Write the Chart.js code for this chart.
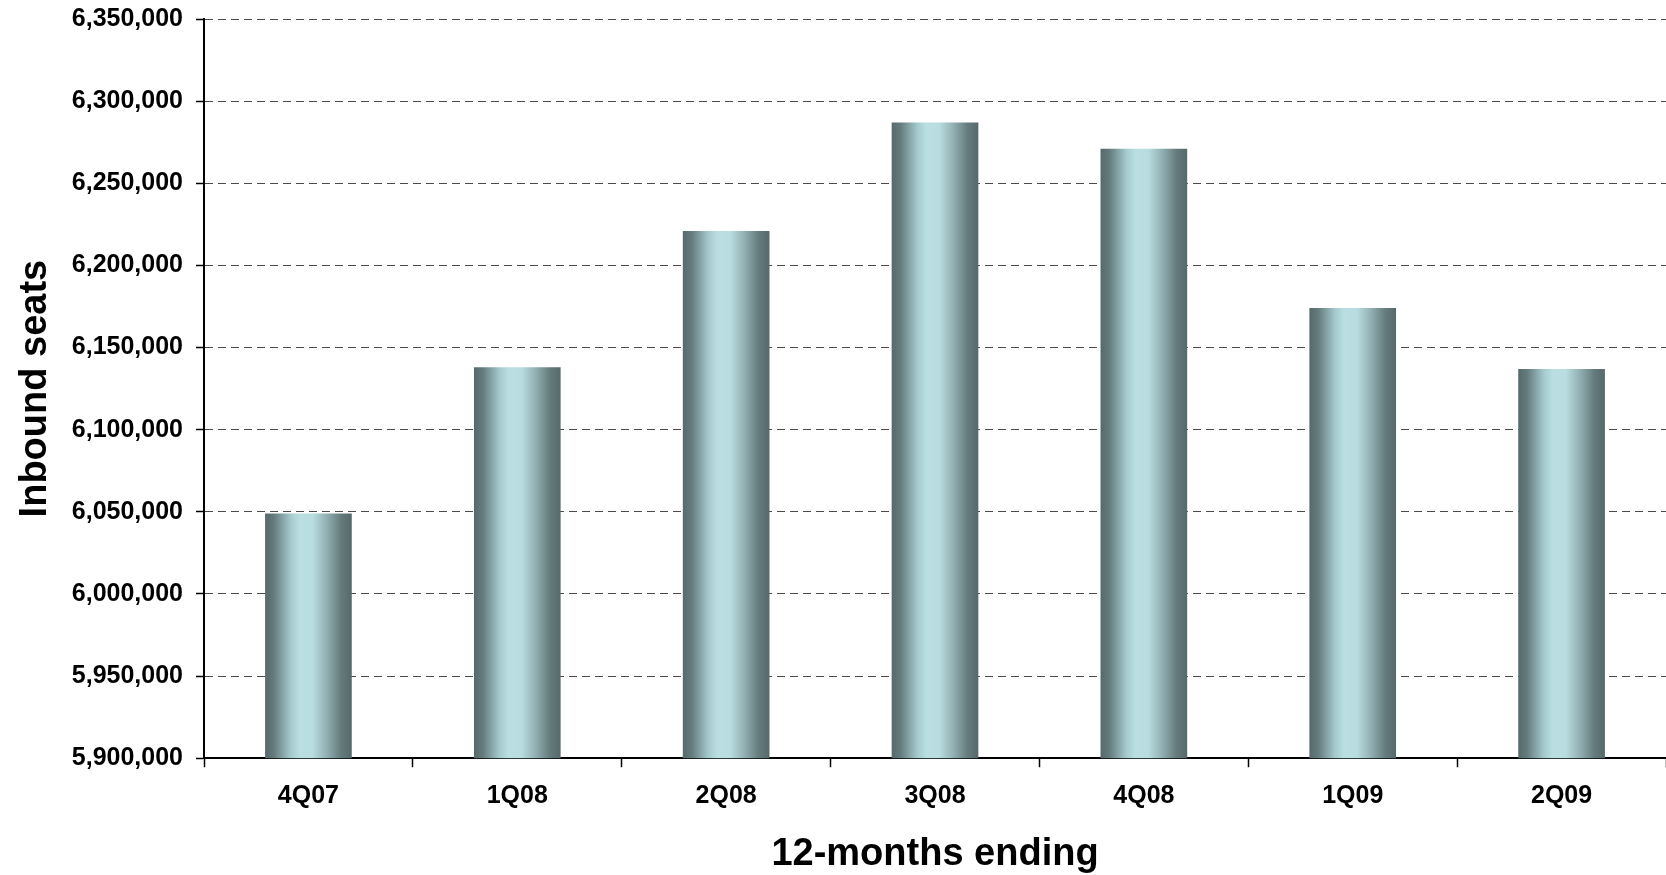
<!DOCTYPE html>
<html>
<head>
<meta charset="utf-8">
<script src="https://cdn.jsdelivr.net/npm/chart.js@4/dist/chart.umd.min.js"></script>
<style>
  html, body { margin: 0; padding: 0; background: #fff; }
  #wrap { width: 1666px; height: 875px; }
</style>
</head>
<body>
<div id="wrap"><canvas id="myChart" width="1666" height="875"></canvas></div>
<script>
// 12-month rolling inbound seats
var quarters = ['4Q07', '1Q08', '2Q08', '3Q08', '4Q08', '1Q09', '2Q09'];
var seats = [6049000, 6138000, 6221000, 6287000, 6271000, 6174000, 6137000];
var yMin = 5900000, yMax = 6350000, yStep = 50000;

var FONT = '"Liberation Sans", Arial, sans-serif';
var BAR_FRAC = 0.415;

// metal-ish cylinder look, gradient across each bar
function barFill(c) {
  var chart = c.chart;
  var xs = chart.scales.x;
  if (!chart.chartArea || !xs) return '#9fc3c7';
  var cx = xs.getPixelForValue(c.dataIndex);
  var w = xs.width / quarters.length * BAR_FRAC;
  var g = chart.ctx.createLinearGradient(cx - w / 2, 0, cx + w / 2, 0);
  g.addColorStop(0, '#566a6c');
  g.addColorStop(0.1, '#647a7c');
  g.addColorStop(0.3, '#a6cbcf');
  g.addColorStop(0.4, '#badfe3');
  g.addColorStop(0.55, '#b8dcdf');
  g.addColorStop(0.7, '#95b3b6');
  g.addColorStop(0.88, '#647a7c');
  g.addColorStop(1, '#56696b');
  return g;
}

var ctx = document.getElementById('myChart').getContext('2d');
var chart = new Chart(ctx, {
  type: 'bar',
  data: {
    labels: quarters,
    datasets: [{
      label: 'Inbound seats',
      data: seats,
      backgroundColor: barFill,
      borderWidth: 0,
      categoryPercentage: 1,
      barPercentage: BAR_FRAC
    }]
  },
  options: {
    responsive: false,
    animation: false,
    devicePixelRatio: 1,
    layout: {padding: {top: 19, right: 0, left: 0, bottom: 0}},
    plugins: {legend: {display: false}, tooltip: {enabled: false}},
    scales: {
      x: {
        grid: {display: true, drawOnChartArea: false, offset: true,
               tickLength: 9, tickColor: '#000', tickWidth: 1.5},
        border: {display: true, color: '#000', width: 2},
        ticks: {color: '#000', padding: 14, font: {family: FONT, size: 25, weight: 'bold'}},
        title: {display: true, text: '12-months ending', color: '#000',
                padding: {top: 8, bottom: 0},
                font: {family: FONT, size: 38, weight: 'bold', lineHeight: 1.1}}
      },
      y: {
        min: yMin,
        max: yMax,
        grid: {color: '#4a4a4a', lineWidth: 1, tickLength: 8, tickColor: '#000', tickWidth: 1.5},
        border: {display: true, color: '#000', width: 2, dash: [8, 5]},
        ticks: {
          stepSize: yStep,
          color: '#000',
          padding: 13,
          font: {family: FONT, size: 25, weight: 'bold'},
          callback: function (v) { return v.toLocaleString('en-US'); }
        },
        title: {display: true, text: 'Inbound seats', color: '#000',
                padding: {top: 13, bottom: 0}, font: {family: FONT, size: 38, weight: 'bold'}},
        afterFit: function (s) {
          s.width = 204;
          s.paddingTop = 0;
          s.paddingBottom = 0;
        }
      }
    }
  }
});
</script>
</body>
</html>
